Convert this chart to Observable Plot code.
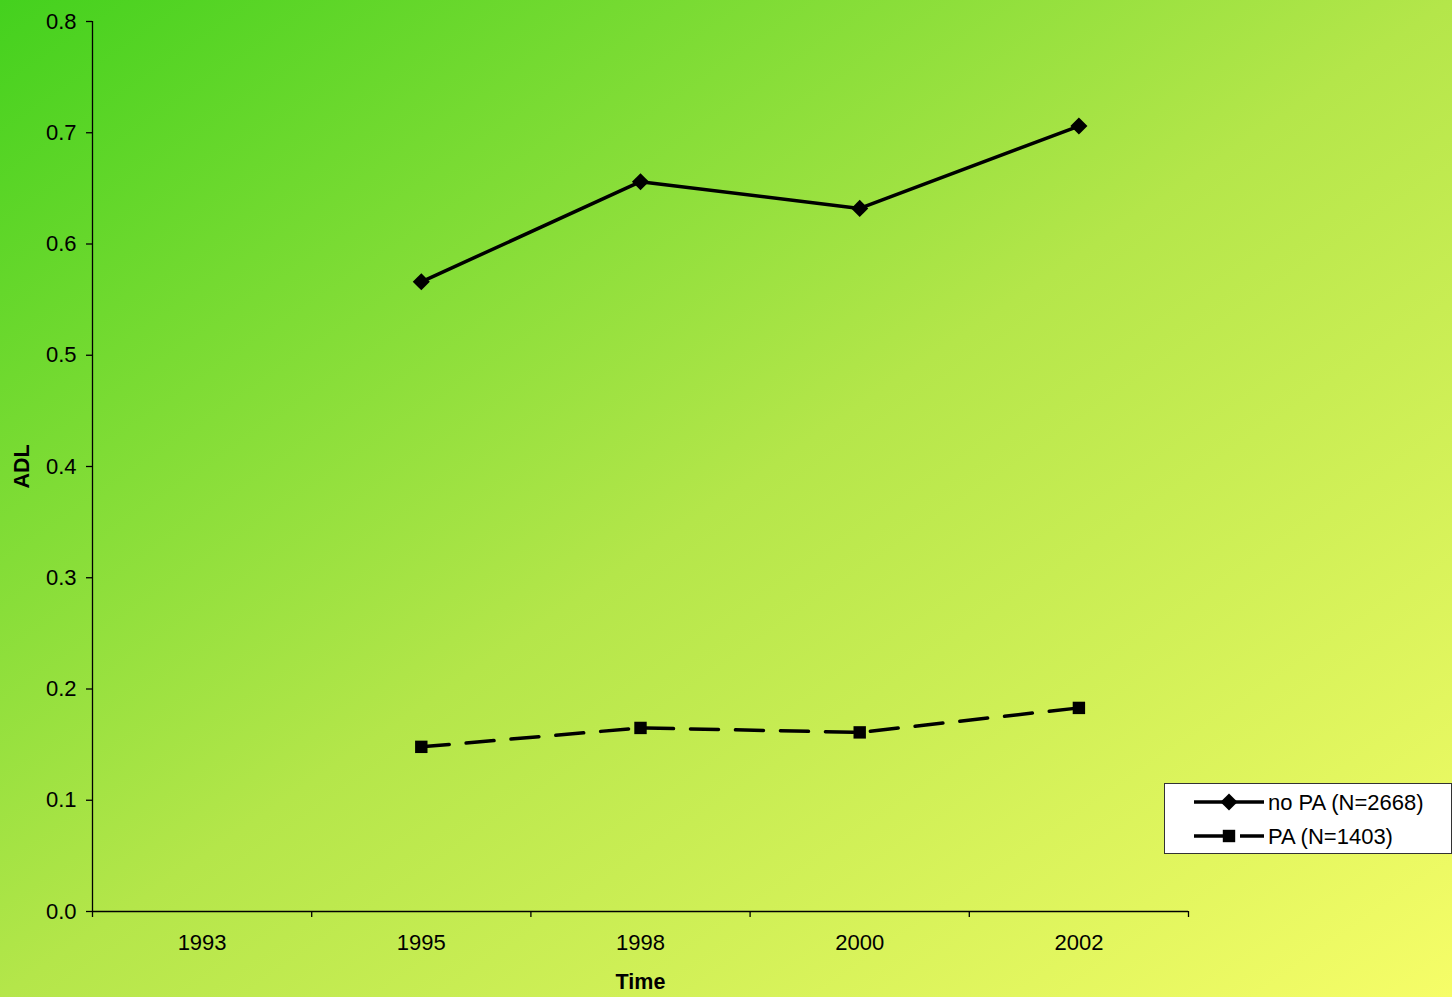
<!DOCTYPE html>
<html>
<head>
<meta charset="utf-8">
<script src="https://cdn.jsdelivr.net/npm/d3@7"></script>
<script src="https://cdn.jsdelivr.net/npm/@observablehq/plot@0.6"></script>
<style>
  html, body { margin: 0; padding: 0; }
  #wrap {
    position: relative;
    width: 1452px;
    height: 997px;
    background: linear-gradient(to bottom right, #44d11e 0%, #b4e64a 50%, #f6fd68 100%);
    font-family: "Liberation Sans", Arial, sans-serif;
    overflow: hidden;
  }
  #legend {
    position: absolute;
    left: 1164px;
    top: 783px;
    width: 286px;
    height: 69px;
    background: #fff;
    border: 1px solid #333;
  }
</style>
</head>
<body>
<div id="wrap"><div id="legend"></div></div>
<script>
// Survey waves on the x axis
const years = ["1993", "1995", "1998", "2000", "2002"];
// Mean ADL score per wave (no value in 1993)
const noPA = [null, 0.566, 0.656, 0.632, 0.706];
const pa = [null, 0.148, 0.165, 0.161, 0.183];
const seriesNames = ["no PA (N=2668)", "PA (N=1403)"];
const yTicks = [0, 0.1, 0.2, 0.3, 0.4, 0.5, 0.6, 0.7, 0.8];

const rows = (vals, name) =>
  vals.map((v, i) => ({i, v, name})).filter(d => d.v != null);
const noPARows = rows(noPA, seriesNames[0]);
const paRows = rows(pa, seriesNames[1]);

// category boundaries for the tick marks between labels
const bounds = d3.range(-0.5, years.length, 1);
const font = "Liberation Sans, Arial, sans-serif";
const rDiamond = 7.7, rSquare = 7.0;

const chart = Plot.plot({
  width: 1452,
  height: 997,
  marginLeft: 92,
  marginRight: 264,
  marginTop: 21,
  marginBottom: 86,
  style: {background: "transparent", fontFamily: font, color: "#000", overflow: "visible"},
  x: {type: "linear", domain: [-0.5, years.length - 0.5]},
  y: {domain: [0, 0.8]},
  marks: [
    Plot.axisY({ticks: yTicks, tickFormat: d3.format(".1f"), tickSize: 6, tickPadding: 10,
      fontSize: 22, label: null, stroke: "#000", strokeWidth: 1.3}),
    Plot.axisX({ticks: bounds, tickFormat: () => "", tickSize: 6, label: null,
      stroke: "#000", strokeWidth: 1.3}),
    Plot.axisX({ticks: d3.range(years.length), tickFormat: i => years[i], tickSize: 0,
      tickPadding: 23, fontSize: 22, label: null}),
    Plot.ruleX([-0.5], {stroke: "#000", strokeWidth: 1.3}),
    Plot.ruleY([0], {stroke: "#000", strokeWidth: 1.3}),
    Plot.text(["Time"], {frameAnchor: "bottom", dy: 71, lineAnchor: "middle", textAnchor: "middle",
      fontSize: 21.5, fontWeight: "bold", fill: "#000"}),
    Plot.text(["ADL"], {frameAnchor: "left", dx: -70, rotate: -90, lineAnchor: "middle", textAnchor: "middle",
      fontSize: 21.5, fontWeight: "bold", fill: "#000"}),
    Plot.line(noPARows, {x: "i", y: "v", stroke: "#000", strokeWidth: 3.5}),
    Plot.dot(noPARows, {x: "i", y: "v", symbol: "diamond2", r: rDiamond, fill: "#000", stroke: "none"}),
    Plot.line(paRows, {x: "i", y: "v", stroke: "#000", strokeWidth: 3.5, strokeDasharray: "28,17"}),
    Plot.dot(paRows, {x: "i", y: "v", symbol: "square", r: rSquare, fill: "#000", stroke: "none"})
  ]
});
chart.style.position = "absolute";
chart.style.left = "0px";
chart.style.top = "0px";
document.getElementById("wrap").prepend(chart);

// legend box
const lg = d3.select("#legend").append("svg").attr("width", 286).attr("height", 69)
  .style("font-family", font);
const items = [
  {name: seriesNames[0], dash: null, symbol: d3.symbolDiamond2, r: rDiamond},
  {name: seriesNames[1], dash: "28,17", symbol: d3.symbolSquare, r: rSquare}
];
items.forEach((it, k) => {
  const y = 18 + k * 34;
  lg.append("line").attr("x1", 29).attr("x2", 99).attr("y1", y).attr("y2", y)
    .attr("stroke", "#000").attr("stroke-width", 3.5)
    .attr("stroke-dasharray", it.dash ? "36,10,24" : null);
  lg.append("path").attr("transform", `translate(64,${y})`)
    .attr("d", d3.symbol(it.symbol, Math.PI * it.r * it.r)()).attr("fill", "#000");
  lg.append("text").attr("x", 103).attr("y", y).attr("dy", "0.35em")
    .attr("font-size", 22).text(it.name);
});
</script>
</body>
</html>
